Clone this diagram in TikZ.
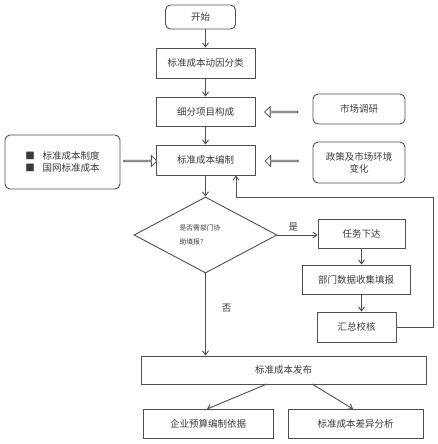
\documentclass[tikz,border=0pt]{standalone}
\usepackage{fontspec}
\newfontfamily\cjk{Noto Sans CJK SC}
\usetikzlibrary{shapes.geometric,shapes.arrows,arrows.meta}
\definecolor{ln}{HTML}{505050}
\definecolor{tx}{HTML}{3A3A3A}
\begin{document}
\begin{tikzpicture}[x=1pt,y=-1pt,
  font=\cjk\fontsize{9.5}{11}\selectfont,
  box/.style={draw=ln,line width=0.9pt,text=tx,minimum width=#1,inner sep=1pt,anchor=center},
  rbox/.style={box=#1,rounded corners=5pt},
  arr/.style={draw=ln,line width=0.9pt,-{Straight Barb[length=4pt,width=6pt]}},
  hol/.style={single arrow,draw=ln,line width=0.8pt,fill=white,minimum height=33pt,minimum width=11pt,single arrow head extend=2.5pt,single arrow tip angle=90,inner sep=0pt},
  lbl/.style={text=tx,inner sep=0pt}]
\useasboundingbox (0,0) rectangle (438,444);
\node[rbox=70pt,minimum height=24pt] (start) at (200.5,17) {开始};
\node[box=99pt,minimum height=30pt] (n1) at (205.5,63) {标准成本动因分类};
\node[box=99pt,minimum height=29pt] (n2) at (205.5,111.5) {细分项目构成};
\node[rbox=92pt,minimum height=30pt] (mkt) at (359,109) {市场调研};
\node[rbox=115pt,minimum height=54pt,align=left] (lft) at (62.5,162) {■\hspace{8pt}标准成本制度\\[1pt]■\hspace{8pt}国网标准成本};
\node[box=99pt,minimum height=30pt] (n3) at (205.5,160) {标准成本编制};
\node[rbox=92pt,minimum height=41pt,align=center] (pol) at (359,162.5) {政策及市场环境\\[1pt]变化};
\node[diamond,draw=ln,line width=0.9pt,minimum width=143pt,minimum height=76pt,aspect=1.88,inner sep=0pt] (dia) at (205.5,235) {};
\node[lbl,align=left,font=\cjk\fontsize{6.8}{14}\selectfont] (dtx) at (200,235) {是否需部门协\\助填报？};
\node[box=87pt,minimum height=29pt] (task) at (361.5,233.5) {任务下达};
\node[box=108pt,minimum height=29pt] (dept) at (356,279.5) {部门数据收集填报};
\node[box=79pt,minimum height=30pt] (sum) at (356.5,327) {汇总校核};
\node[box=285pt,minimum height=28pt] (pub) at (283.5,370) {标准成本发布};
\node[box=130pt,minimum height=29pt] (b1) at (208,423.5) {企业预算编制依据};
\node[box=135pt,minimum height=29pt] (b2) at (355.5,423.5) {标准成本差异分析};
% hollow arrows
\node[hol,shape border rotate=180] (h1) at (281.5,112) {};
\node[hol] (h2) at (140,161) {};
\node[hol,shape border rotate=180] (h3) at (282,161) {};
% connectors
\draw[arr] (n1.north |- start.south) -- (n1.north);
\draw[arr] (n1.south) -- (n2.north);
\draw[arr] (n2.south) -- (n3.north);
\draw[arr] (n3.south) -- (dia.north);
\draw[arr] (dia.east) -- node[lbl,above,pos=0.4,yshift=3pt]{是} (dia.east -| task.west);
\draw[arr] (task.south) -- (task.south |- dept.north);
\draw[arr] (task.south |- dept.south) -- (task.south |- sum.north);
\coordinate (fb1) at (433,327);
\coordinate (fb2) at (433,197);
\coordinate (fb3) at (236,197);
\draw[arr] (sum.east) -- (fb1) -- (fb2) -- (fb3) -- (fb3 |- n3.south);
\draw[arr] (dia.south) -- node[lbl,right,pos=0.42,xshift=16pt]{否} (dia.south |- pub.north);
\coordinate (p1) at (267,384);
\coordinate (p2) at (312,384);
\coordinate (q1) at (207,409);
\coordinate (q2) at (353,409);
\draw[arr] (p1) -- (q1);
\draw[arr] (p2) -- (q2);
\end{tikzpicture}
\end{document}
